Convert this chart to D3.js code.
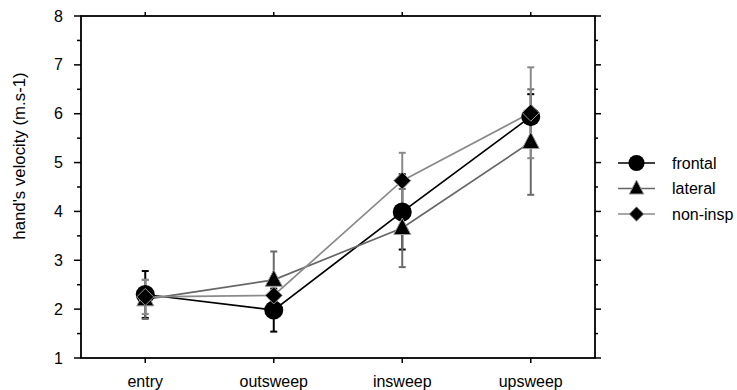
<!DOCTYPE html>
<html><head><meta charset="utf-8">
<script src="https://cdn.jsdelivr.net/npm/d3@7"></script>
<style>body{margin:0;background:#fff}svg text{font-family:"Liberation Sans",Arial,sans-serif}</style>
</head><body><svg id="c" width="737" height="390"></svg>
<script>
const categories = ["entry","outsweep","insweep","upsweep"];
const seriesNames = ["frontal","lateral","non-insp"];
const frontal = [2.30, 1.98, 3.99, 5.94];
const frontalErr = [0.48, 0.44, 0.77, 0.46];
const lateral = [2.20, 2.60, 3.66, 5.42];
const lateralErr = [0.40, 0.58, 0.80, 1.08];
const noninsp = [2.25, 2.28, 4.63, 6.02];
const noninspErr = [0.35, 0.30, 0.57, 0.93];
const yTicks = [1,2,3,4,5,6,7,8];
const yTitle = "hand's velocity (m.s-1)";

const svg = d3.select("#c");
const L=81, R=595, T=16, B=358;
const x = d3.scalePoint().domain(categories).range([L,R]).padding(0.5);
const y = d3.scaleLinear().domain([1,8]).range([B,T]);
const minor = d3.range(1.5,8,1);

// axes
const ax = svg.append("g").attr("stroke","#000").attr("fill","none");
ax.append("rect").attr("x",L).attr("y",T).attr("width",R-L).attr("height",B-T).attr("stroke-width",1.8);
yTicks.forEach(v=>{
  ax.append("line").attr("x1",L-7).attr("x2",L).attr("y1",y(v)).attr("y2",y(v)).attr("stroke-width",1.5);
  ax.append("line").attr("x1",R).attr("x2",R+6).attr("y1",y(v)).attr("y2",y(v)).attr("stroke-width",1.5);
});
minor.forEach(v=>{
  ax.append("line").attr("x1",L-4).attr("x2",L).attr("y1",y(v)).attr("y2",y(v)).attr("stroke-width",1.5);
  ax.append("line").attr("x1",R).attr("x2",R+3).attr("y1",y(v)).attr("y2",y(v)).attr("stroke-width",1.5);
});
categories.forEach(c=>{
  ax.append("line").attr("x1",x(c)).attr("x2",x(c)).attr("y1",T).attr("y2",T-4).attr("stroke-width",1.5);
  ax.append("line").attr("x1",x(c)).attr("x2",x(c)).attr("y1",B).attr("y2",B+5).attr("stroke-width",1.5);
});
svg.append("g").selectAll("text").data(yTicks).join("text")
  .attr("x",L-18).attr("y",d=>y(d)).attr("dy","0.35em").attr("text-anchor","end")
  .attr("font-size",16).text(d=>d);
svg.append("g").selectAll("text").data(categories).join("text")
  .attr("x",d=>x(d)).attr("y",387).attr("text-anchor","middle")
  .attr("font-size",16).text(d=>d);
svg.append("text").attr("transform",`translate(25,156) rotate(-90)`)
  .attr("text-anchor","middle").attr("font-size",16.8).text(yTitle);

const series = [
  {name:seriesNames[0], v:frontal, e:frontalErr, color:"#000", errColor:"#000", shape:"circle"},
  {name:seriesNames[1], v:lateral, e:lateralErr, color:"#666", errColor:"#6a6a6a", shape:"triangle"},
  {name:seriesNames[2], v:noninsp, e:noninspErr, color:"#8a8a8a", errColor:"#8a8a8a", shape:"diamond"}
];
function marker(g, shape, cx, cy, s, stroke){
  if(shape==="circle") g.append("circle").attr("cx",cx).attr("cy",cy).attr("r",9.5*s).attr("fill","#000");
  else if(shape==="triangle") g.append("path").attr("d",`M${cx},${cy-10*s}L${cx+8.5*s},${cy+6.5*s}L${cx-8.5*s},${cy+6.5*s}Z`).attr("fill","#000").attr("stroke",stroke).attr("stroke-width",1);
  else g.append("path").attr("d",`M${cx},${cy-8.5*s}L${cx+8.5*s},${cy}L${cx},${cy+8.5*s}L${cx-8.5*s},${cy}Z`).attr("fill","#000").attr("stroke",stroke).attr("stroke-width",1);
}
const line = d3.line().x((d,i)=>x(categories[i])).y(d=>y(d));
const gE = svg.append("g"), gL = svg.append("g"), gM = svg.append("g");
series.forEach(s=>{
  s.v.forEach((v,i)=>{
    const cx=x(categories[i]);
    gE.append("line").attr("x1",cx).attr("x2",cx).attr("y1",y(v-s.e[i])).attr("y2",y(v+s.e[i])).attr("stroke",s.errColor).attr("stroke-width",2);
    [v-s.e[i], v+s.e[i]].forEach(w=>gE.append("line").attr("x1",cx-3.5).attr("x2",cx+3.5).attr("y1",y(w)).attr("y2",y(w)).attr("stroke",s.errColor).attr("stroke-width",2));
  });
  gL.append("path").attr("d",line(s.v)).attr("fill","none").attr("stroke",s.color).attr("stroke-width",1.7);
});
series.forEach(s=>{
  s.v.forEach((v,i)=>marker(gM,s.shape,x(categories[i]),y(v),1,"#999"));
});
// legend
const lg = svg.append("g");
series.forEach((s,i)=>{
  const yy = 163 + i*25.5;
  lg.append("line").attr("x1",618).attr("x2",655).attr("y1",yy).attr("y2",yy).attr("stroke",s.color).attr("stroke-width",1.7);
  marker(lg,s.shape,636.5,yy,0.85,"#999");
  lg.append("text").attr("x",672).attr("y",yy).attr("dy","0.35em").attr("font-size",16).text(s.name);
});
</script></body></html>
